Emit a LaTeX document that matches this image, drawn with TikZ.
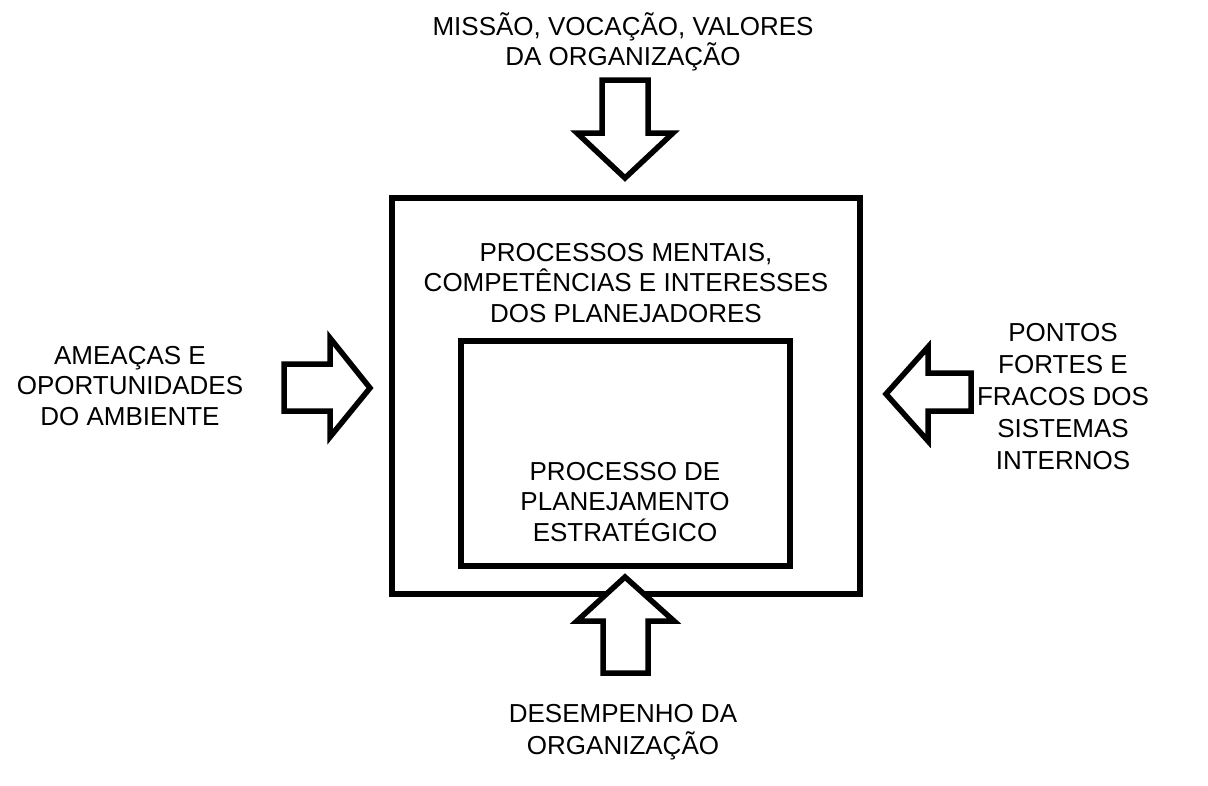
\documentclass[tikz,border=0pt]{standalone}
\usepackage{fontspec}
\setmainfont{Liberation Sans}
\begin{document}
\begin{tikzpicture}[x=1pt,y=-1pt,
  box/.style={draw=black,line width=5.5pt},
  blockarrow/.style={draw=black,fill=white,line width=5.5pt,line join=miter},
  lbl/.style={align=center,font=\fontsize{26pt}{30.5pt}\selectfont,inner sep=0pt}]
\useasboundingbox (0,0) rectangle (1208,785);
% boxes
\draw[box] (392,198) rectangle (860,594);
\draw[box] (461,341) rectangle (790,566);
% top arrow
\draw[blockarrow] (602,80) -- (648,80) -- (648,133) -- (673,133) -- (625,178) -- (577,133) -- (602,133) -- cycle;
% bottom arrow
\draw[blockarrow] (603,673) -- (648,673) -- (648,621) -- (674,621) -- (625,577) -- (577,621) -- (603,621) -- cycle;
% left arrow
\draw[blockarrow] (284,364) -- (330,364) -- (330,338) -- (370,388) -- (330,437) -- (330,411) -- (284,411) -- cycle;
% right arrow
\draw[blockarrow] (971,373) -- (928,373) -- (928,347) -- (886,394) -- (928,441) -- (928,411) -- (971,411) -- cycle;
% labels
\node[lbl] (top) at (623,42) {MISSÃO, VOCAÇÃO, VALORES\\DA ORGANIZAÇÃO};
\node[lbl] (outer) at (626,283) {PROCESSOS MENTAIS,\\COMPETÊNCIAS E INTERESSES\\DOS PLANEJADORES};
\node[lbl] (inner) at (625,502) {PROCESSO DE\\PLANEJAMENTO\\ESTRATÉGICO};
\node[lbl] (left) at (130,386) {AMEAÇAS E\\OPORTUNIDADES\\DO AMBIENTE};
\node[lbl,font=\fontsize{26pt}{32pt}\selectfont] (right) at (1063,397) {PONTOS\\FORTES E\\FRACOS DOS\\SISTEMAS\\INTERNOS};
\node[lbl,font=\fontsize{26pt}{32pt}\selectfont] (bottom) at (623,732) {DESEMPENHO DA\\ORGANIZAÇÃO};
\end{tikzpicture}
\end{document}
